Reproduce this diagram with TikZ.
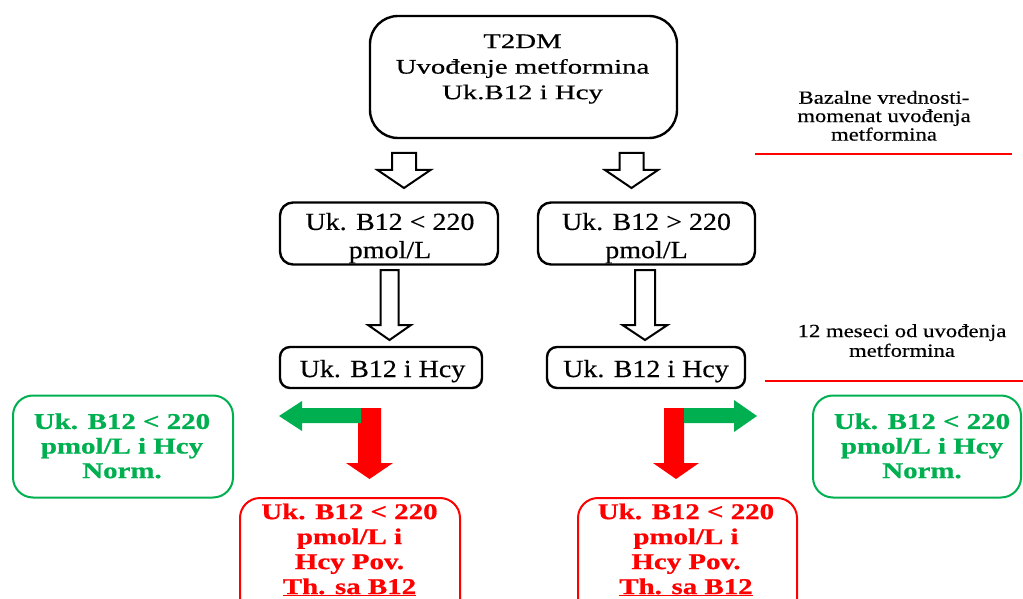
\documentclass[tikz,border=0pt]{standalone}
\usepackage{fontspec}
\setmainfont{Liberation Serif}[UprightFeatures={FakeBold=0.35}, BoldFeatures={FakeBold=0.7}]
\usepackage{graphicx}
\definecolor{dgreen}{HTML}{00B050}
\definecolor{dred}{HTML}{FF0000}
\newcommand\stx[2]{\scalebox{1}[#1]{\begin{tabular}{@{}c@{}}#2\end{tabular}}}
\newcommand\hollowarrow[6]{%
  \draw[harrow] (#1-#5,#2) -- (#1+#5,#2) -- (#1+#5,#3) -- (#1+#6,#3) -- (#1,#4) -- (#1-#6,#3) -- (#1-#5,#3) -- cycle;}
\begin{document}
\begin{tikzpicture}[x=1pt,y=-1pt,
  blackbox/.style={draw=black, line width=2.4pt, inner sep=0pt},
  greenbox/.style={draw=dgreen, line width=2pt, inner sep=0pt, rounded corners=20pt},
  redbox/.style={draw=dred, line width=2pt, inner sep=0pt, rounded corners=20pt},
  txt/.style={inner sep=0pt},
  harrow/.style={draw=black, line width=2pt, fill=white, line join=miter},
  redline/.style={draw=dred, line width=2pt}]
\path[use as bounding box, clip] (0,0) rectangle (1023,599);

% boxes
\node[blackbox, rounded corners=28pt, minimum width=307pt, minimum height=122pt] (top) at (523.5,77) {};
\node[blackbox, rounded corners=13pt, minimum width=218pt, minimum height=62pt] (r2l) at (389,233.5) {};
\node[blackbox, rounded corners=13pt, minimum width=217pt, minimum height=62pt] (r2r) at (646.5,233.5) {};
\node[blackbox, rounded corners=10pt, minimum width=202pt, minimum height=41pt] (r3l) at (381,367.5) {};
\node[blackbox, rounded corners=10pt, minimum width=198pt, minimum height=41pt] (r3r) at (646,367.5) {};
\node[greenbox, minimum width=220pt, minimum height=102pt] (gl) at (123,446.5) {};
\node[greenbox, minimum width=208pt, minimum height=102pt] (gr) at (917,446.5) {};
\node[redbox, minimum width=220pt, minimum height=122pt] (rl) at (350,559) {};
\node[redbox, minimum width=219pt, minimum height=122pt] (rr) at (687.5,559) {};

% texts
\node[txt] (toptext) at (522.5,68.5) {\fontsize{28.8}{35.5}\selectfont\stx{0.72}{T2DM\\Uvođenje metformina\\Uk.B12 i Hcy}};
\node[txt] (r2ltext) at (390,238.4) {\fontsize{28}{32}\selectfont\stx{0.88}{Uk. B12 < 220\\pmol/L}};
\node[txt] (r2rtext) at (646.5,238.4) {\fontsize{28}{32}\selectfont\stx{0.88}{Uk. B12 > 220\\pmol/L}};
\node[txt] (r3ltext) at (382.5,371.4) {\fontsize{28}{32}\selectfont\stx{0.88}{Uk. B12 i Hcy}};
\node[txt] (r3rtext) at (646,371.4) {\fontsize{28}{32}\selectfont\stx{0.88}{Uk. B12 i Hcy}};
\node[txt, text=dgreen, font=\bfseries] (gltext) at (122,448.6) {\fontsize{28.9}{31.5}\selectfont\stx{0.78}{Uk. B12 < 220\\pmol/L i Hcy\\Norm.}};
\node[txt, text=dgreen, font=\bfseries] (grtext) at (922,448.6) {\fontsize{28.9}{31.5}\selectfont\stx{0.78}{Uk. B12 < 220\\pmol/L i Hcy\\Norm.}};
\node[txt, text=dred, font=\bfseries] (rltext) at (349.5,551.6) {\fontsize{28.9}{32}\selectfont\stx{0.78}{Uk. B12 < 220\\pmol/L i\\Hcy Pov.\\\underline{Th. sa B12}}};
\node[txt, text=dred, font=\bfseries] (rrtext) at (686,551.6) {\fontsize{28.9}{32}\selectfont\stx{0.78}{Uk. B12 < 220\\pmol/L i\\Hcy Pov.\\\underline{Th. sa B12}}};
\node[txt] (note1) at (884,118.4) {\fontsize{22.7}{22}\selectfont\stx{0.82}{Bazalne vrednosti-\\momenat uvođenja\\metformina}};
\node[txt] (note2) at (902,343) {\fontsize{22.7}{24}\selectfont\stx{0.82}{12 meseci od uvođenja\\metformina}};

% red rules
\coordinate (l1a) at (755,154);
\coordinate (l1b) at (1012,154);
\coordinate (l2a) at (765,381);
\coordinate (l2b) at (1023,381);
\draw[redline] (l1a) -- (l1b);
\draw[redline] (l2a) -- (l2b);

% hollow block arrows
\hollowarrow{404}{153}{170}{188}{12}{26.5}
\hollowarrow{631.5}{153}{170}{188}{12}{26.5}
\hollowarrow{389.5}{270}{325}{340}{9}{21.5}
\hollowarrow{645}{270}{325}{340}{10}{22.5}

% red/green block arrows, left
\fill[dred] (358,408) -- (381,408) -- (381,463) -- (393,463) -- (369.5,479) -- (346,463) -- (358,463) -- cycle;
\fill[dgreen] (361,408) -- (361,423) -- (302,423) -- (302,431) -- (279,416) -- (302,401) -- (302,408) -- cycle;
% right
\fill[dred] (664,408) -- (684,408) -- (684,463) -- (699,463) -- (676,479) -- (653,463) -- (664,463) -- cycle;
\fill[dgreen] (684,408) -- (734,408) -- (734,400) -- (757,416) -- (734,432) -- (734,423) -- (684,423) -- cycle;
\end{tikzpicture}
\end{document}
